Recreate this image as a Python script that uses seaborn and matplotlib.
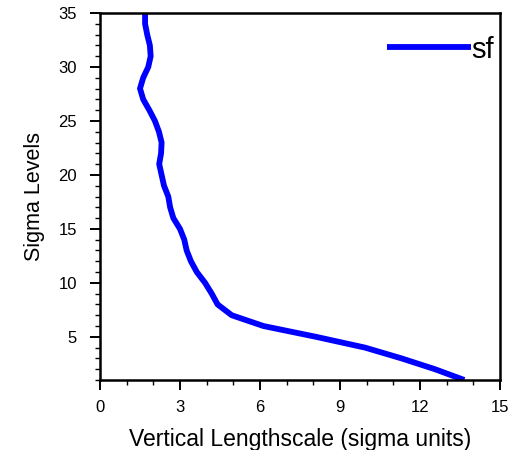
import matplotlib
matplotlib.use("Agg")
import matplotlib.pyplot as plt
import seaborn as sns
import pandas as pd
from matplotlib.ticker import MultipleLocator

sigma_levels = list(range(1, 36))
lengthscale = [13.66, 12.56, 11.31, 9.94, 8.10, 6.13, 4.94, 4.41, 4.19, 3.94,
               3.63, 3.41, 3.25, 3.16, 3.00, 2.75, 2.63, 2.56, 2.40, 2.31,
               2.22, 2.29, 2.31, 2.21, 2.06, 1.85, 1.62, 1.50, 1.62, 1.81,
               1.90, 1.87, 1.77, 1.69, 1.69]
series_name = "sf"
x_ticks = [0, 3, 6, 9, 12, 15]
y_ticks = [5, 10, 15, 20, 25, 30, 35]

df = pd.DataFrame({"level": sigma_levels, "value": lengthscale})

sns.set_theme(style="white")
plt.rcParams["font.family"] = ["Liberation Sans", "DejaVu Sans"]
plt.rcParams["text.color"] = "black"
plt.rcParams["axes.labelcolor"] = "black"

fig = plt.figure(figsize=(5.2, 4.5), dpi=100)
ax = fig.add_axes([100/520, 1-380/450, 400/520, 367/450])

sns.lineplot(data=df, x="value", y="level", orient="y", sort=False,
             color="#0000ff", linewidth=4.2, label=series_name, ax=ax,
             solid_capstyle="butt")

ax.set_xlim(0, 15)
ax.set_ylim(1, 35)
ax.set_xticks(x_ticks)
ax.set_yticks(y_ticks)
ax.xaxis.set_minor_locator(MultipleLocator(1))
ax.yaxis.set_minor_locator(MultipleLocator(1))
ax.tick_params(which="major", direction="out", length=7.5, width=1.4,
               labelsize=12, colors="black", labelcolor="black",
               bottom=True, left=True, top=False, right=False, pad=7)
ax.tick_params(axis="y", which="major", pad=9)
ax.tick_params(which="minor", direction="out", length=3.8, width=1.0,
               colors="black", bottom=True, left=True, top=False, right=False)
for s in ax.spines.values():
    s.set_color("black")
    s.set_linewidth(1.8)

ax.set_xlabel("Vertical Lengthscale (sigma units)", fontsize=16.5, labelpad=9)
ax.set_ylabel("Sigma Levels", fontsize=15.5, labelpad=10)

leg = ax.legend(loc="center right", bbox_to_anchor=(0.985, 0.9), frameon=False,
                fontsize=21, handlelength=2.9, handletextpad=0.0,
                borderaxespad=0.0, borderpad=0.0)
for t in leg.get_texts():
    t.set_color("black")

fig.savefig("out.png", dpi=100)
